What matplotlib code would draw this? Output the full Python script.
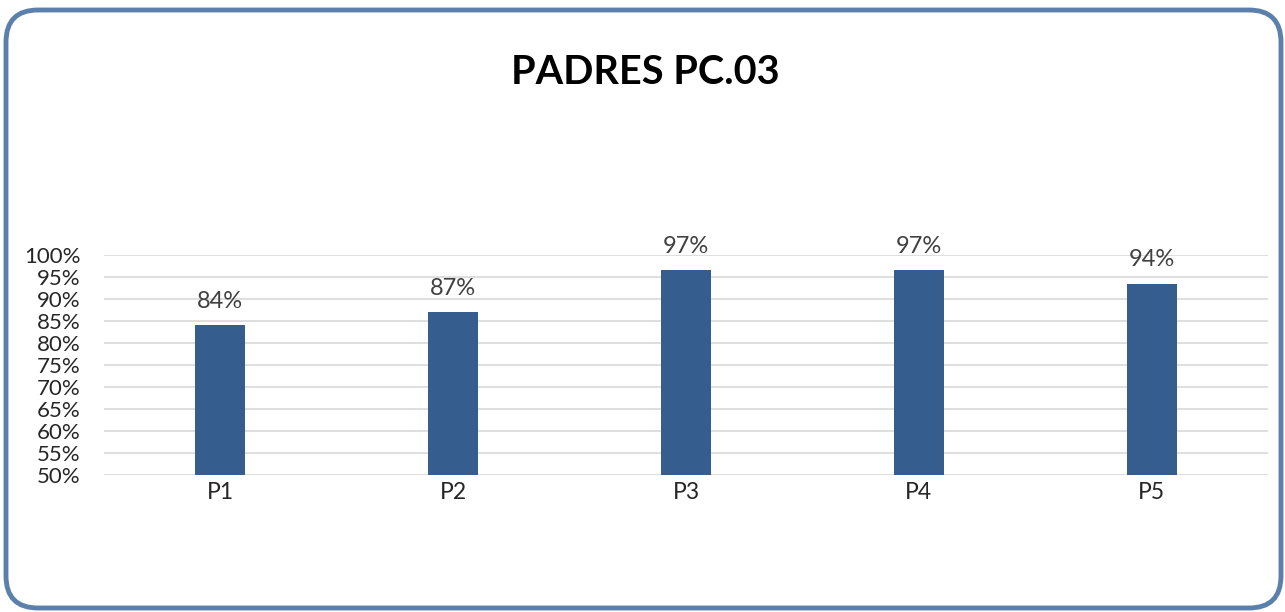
import matplotlib
matplotlib.use('Agg')
import matplotlib.pyplot as plt
from matplotlib.patches import FancyBboxPatch
import numpy as np

# data
categories = ['P1', 'P2', 'P3', 'P4', 'P5']
values = [0.84, 0.87, 0.966, 0.966, 0.935]
ticks = [0.50, 0.55, 0.60, 0.65, 0.70, 0.75, 0.80, 0.85, 0.90, 0.95, 1.00]
title = 'PADRES PC.03'

plt.rcParams['font.family'] = ['Lato', 'DejaVu Sans']

W, H = 1285, 612
fig = plt.figure(figsize=(W / 100, H / 100), dpi=100, facecolor='white')

# rounded chart border
frame = FancyBboxPatch((6 / W, 4 / H), (W - 10) / W, (H - 14) / H,
                       boxstyle='round,pad=0,rounding_size=0.025',
                       transform=fig.transFigure, facecolor='none',
                       edgecolor='#5b80ab', linewidth=3.5, mutation_aspect=W / H,
                       zorder=10)
fig.patches.append(frame)

ax = fig.add_axes([104 / W, 1 - 475 / H, (1268 - 104) / W, (475 - 255) / H])
ax.set_facecolor('none')

x = np.arange(len(categories))
ax.bar(x, values, width=0.215, color='#355e8e', zorder=3)
for xi, v in zip(x, values):
    ax.text(xi, v + 0.03, '{:.0f}%'.format(v * 100), ha='center', va='bottom',
            fontsize=17, color='#404040')

ax.set_ylim(0.5, 1.0)
ax.set_xlim(-0.5, len(categories) - 0.5)
ax.set_yticks(ticks)
ax.set_yticklabels(['{:.0f}%'.format(t * 100) for t in ticks], fontsize=16, color='#262626')
ax.yaxis.grid(True, color='#d9d9d9', linewidth=1.2, zorder=0)
ax.set_axisbelow(True)
ax.set_xticks(x)
ax.set_xticklabels(categories, fontsize=16.5, color='#262626')
ax.tick_params(length=0)
ax.tick_params(axis='y', pad=17)
ax.tick_params(axis='x', pad=5)
for s in ax.spines.values():
    s.set_visible(False)

fig.text(645 / W, 1 - 73 / H, title, ha='center', va='center',
         fontsize=28.5, fontweight='bold', color='#000000')

fig.savefig('out.png', dpi=100)
